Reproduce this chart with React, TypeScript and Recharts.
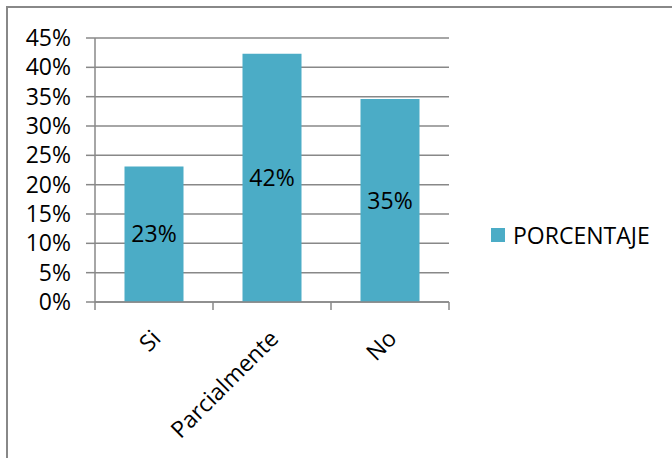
import { BarChart, Bar, XAxis, YAxis, CartesianGrid, Legend, LabelList } from 'recharts';

const categories = ['Si', 'Parcialmente', 'No'];
const porcentaje = [23.08, 42.31, 34.62];
const yTicks = [0, 5, 10, 15, 20, 25, 30, 35, 40, 45];

const data = categories.map((name, i) => ({ name, value: porcentaje[i] }));

const FONT = '"Open Sans", sans-serif';
const FS = 23;
const GRAY = '#888888';
const BAR = '#4BACC6';

function CategoryTick(props: any) {
  const { x, y, payload, index } = props;
  const half = payload.offset ?? 0;
  const ax = x + 8;
  const ay = y + 38;
  return (
    <g>
      <line x1={x - half} y1={y} x2={x - half} y2={y + 8} stroke={GRAY} strokeWidth={1.5} />
      {index === categories.length - 1 && (
        <line x1={x + half} y1={y} x2={x + half} y2={y + 8} stroke={GRAY} strokeWidth={1.5} />
      )}
      <text
        x={ax}
        y={ay}
        textAnchor="end"
        transform={`rotate(-45, ${ax}, ${ay})`}
        fontSize={FS}
        fontFamily={FONT}
        fill="#000"
      >
        {payload.value}
      </text>
    </g>
  );
}

function LegendBox() {
  return (
    <div style={{ display: 'flex', alignItems: 'center', fontFamily: FONT, fontSize: FS, color: '#000' }}>
      <span style={{ width: 14, height: 14, background: BAR, marginRight: 8, display: 'inline-block' }} />
      PORCENTAJE
    </div>
  );
}

export default function App() {
  return (
    <div style={{ position: 'absolute', left: 0, top: 0, width: 672, height: 458, overflow: 'hidden', background: '#fff' }}>
      <div
        style={{
          position: 'absolute',
          left: 6,
          top: 6,
          width: 700,
          height: 500,
          border: `2px solid ${GRAY}`,
          boxSizing: 'border-box',
        }}
      />
      <BarChart
        width={672}
        height={458}
        data={data}
        margin={{ top: 38, right: 223, bottom: 96, left: 0 }}
        barCategoryGap="25%"
      >
        <CartesianGrid vertical={false} stroke={GRAY} strokeWidth={1.5} />
        <XAxis
          dataKey="name"
          height={60}
          axisLine={{ stroke: GRAY, strokeWidth: 1.5 }}
          tickLine={false}
          tickSize={0}
          tickMargin={0}
          interval={0}
          tick={<CategoryTick />}
        />
        <YAxis
          width={95}
          domain={[0, 45]}
          ticks={yTicks}
          interval={0}
          tickFormatter={(v: number) => `${v}%`}
          axisLine={{ stroke: GRAY, strokeWidth: 1.5 }}
          tickLine={{ stroke: GRAY, strokeWidth: 1.5 }}
          tickSize={9}
          tickMargin={15}
          tick={{ fontSize: FS, fontFamily: FONT, fill: '#000' }}
        />
        <Legend
          align="center"
          verticalAlign="middle"
          layout="horizontal"
          content={<LegendBox />}
          wrapperStyle={{ left: 491, top: 219, width: 'auto', height: 'auto' }}
        />
        <Bar dataKey="value" name="PORCENTAJE" fill={BAR} isAnimationActive={false}>
          <LabelList
            dataKey="value"
            position="center"
            formatter={(v: any) => `${Math.round(Number(v))}%`}
            style={{ fontSize: FS, fontFamily: FONT, fill: '#000' }}
          />
        </Bar>
      </BarChart>
    </div>
  );
}
